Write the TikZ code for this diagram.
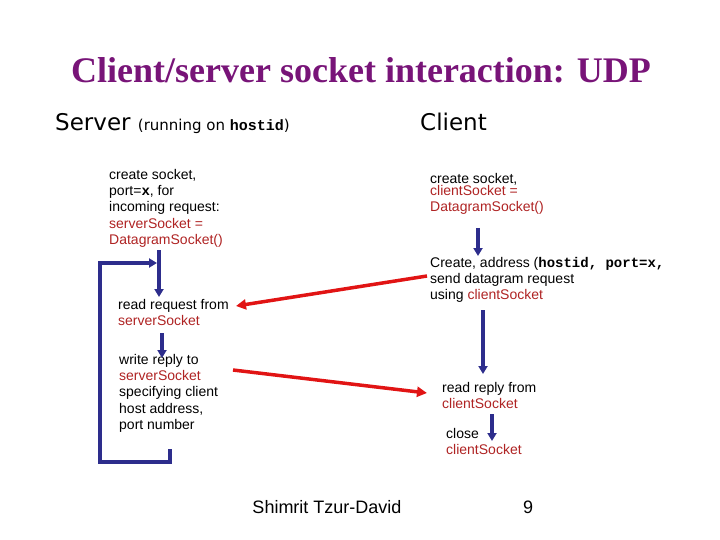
\documentclass[tikz,border=0pt]{standalone}
\usepackage{fontspec}
\setmainfont{Liberation Sans}
\newfontfamily\titlefont{Liberation Serif}
\newfontfamily\headfont{DejaVu Sans}
\setmonofont{Liberation Mono}
\usetikzlibrary{arrows.meta}
\definecolor{ttl}{RGB}{120,20,120}
\definecolor{dred}{RGB}{175,35,35}
\definecolor{bl}{RGB}{45,45,140}
\definecolor{rarr}{RGB}{225,20,20}
\newcommand{\rd}[1]{\textcolor{dred}{#1}}
\begin{document}
\begin{tikzpicture}[x=1pt,y=-1pt,
  txt/.style={anchor=north west,inner sep=0pt,align=left,font=\fontsize{14}{16.3}\selectfont},
  barr/.style={draw=bl,line width=3.5pt,-{Triangle[length=8pt,width=9pt]}},
  rarr/.style={draw=rarr,line width=3.5pt,-{Triangle[length=10pt,width=10pt]}}]
\useasboundingbox (0,0) rectangle (720,540);
\node[font=\titlefont\bfseries\fontsize{36}{40}\selectfont,text=ttl] (title) at (361,70) {Client/server socket interaction: UDP};
\node[anchor=base west,inner sep=0pt,font=\headfont\fontsize{23}{26}\selectfont] (srv) at (55,131) {Server \fontsize{15}{18}\selectfont(running on \texttt{\textbf{hostid}})};
\node[anchor=base west,inner sep=0pt,font=\headfont\fontsize{23}{26}\selectfont] (cli) at (420,131) {Client};
\node[txt] (s1) at (109,169) {create socket,\\port=\texttt{\textbf{x}}, for\\incoming request:\\\rd{serverSocket =}\\\rd{DatagramSocket()}};
\node[txt] (s2) at (118,299) {read request from\\\rd{serverSocket}};
\node[txt] (s3) at (119,354) {write reply to\\\rd{serverSocket}\\specifying client\\host address,\\port number};
\node[txt] (c1) at (430,173) {create socket,\\[-4pt]\rd{clientSocket =}\\\rd{DatagramSocket()}};
\node[txt] (c2) at (430,257) {Create, address (\texttt{\textbf{hostid, port=x,}}\\send datagram request\\using \rd{clientSocket}};
\node[txt] (c3) at (442,382) {read reply from\\\rd{clientSocket}};
\node[txt] (c4) at (446,428) {close\\\rd{clientSocket}};
\node[font=\fontsize{18}{20}\selectfont] (auth) at (327,507) {Shimrit Tzur-David};
\node[font=\fontsize{18}{20}\selectfont] (pg) at (528,507) {9};
\coordinate (a1) at (159,250); \coordinate (a2) at (159,297);
\draw[barr] (a1) -- (a2);
\coordinate (b1) at (162,333); \coordinate (b2) at (162,358);
\draw[barr] (b1) -- (b2);
\coordinate (l1) at (170,449); \coordinate (l2) at (157,263);
\draw[barr] (l1) -- (170,462) -- (100,462) -- (100,263) -- (l2);
\coordinate (c1a) at (478,228); \coordinate (c1b) at (478,256);
\draw[barr] (c1a) -- (c1b);
\coordinate (c2a) at (483,310); \coordinate (c2b) at (483,374);
\draw[barr] (c2a) -- (c2b);
\coordinate (c3a) at (492,414); \coordinate (c3b) at (492,441);
\draw[barr] (c3a) -- (c3b);
\coordinate (r1) at (427,276); \coordinate (r2) at (236,306);
\draw[rarr] (r1) -- (r2);
\coordinate (r3) at (233,370); \coordinate (r4) at (427,393);
\draw[rarr] (r3) -- (r4);
\end{tikzpicture}
\end{document}
